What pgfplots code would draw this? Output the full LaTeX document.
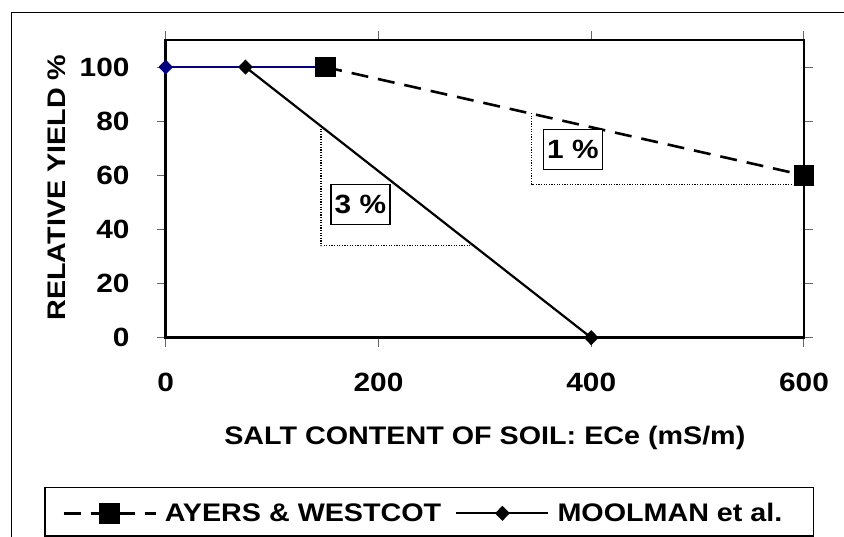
\documentclass[border=0pt]{standalone}
\usepackage{pgfplots}
\pgfplotsset{compat=1.18}
\usepackage{fontspec}
\setmainfont{Liberation Sans}[FakeStretch=1.13]
\definecolor{navyline}{RGB}{0,0,128}
\newcommand\chartfont{\bfseries\fontsize{25.5}{30}\selectfont}
\newcommand\tickfont{\bfseries\fontsize{26.5}{30}\selectfont}

\begin{document}
\begin{tikzpicture}
\useasboundingbox (-165.7bp,-199.3bp) rectangle (678.3bp,337.7bp);
\clip (-165.7bp,-199.3bp) rectangle (678.3bp,337.7bp);
% outer chart frame
\draw[line width=1.3bp] (-154.2bp,-230bp) rectangle (720bp,325.2bp);
\begin{axis}[
  scale only axis, width=638.3bp, height=297.7bp,
  xmin=0, xmax=600, ymin=0, ymax=110,
  xtick={0,200,400,600}, ytick={0,20,40,60,80,100},
  clip=false,
  axis line style={line width=2.5bp},
  tick align=outside, major tick length=9bp,
  tick style={line width=1bp, color=black!60},
  /pgf/number format/assume math mode=true,
  ticklabel style={font=\tickfont},
  xticklabel style={inner sep=0pt, anchor=north, yshift=-26bp},
  yticklabel style={inner sep=0pt, anchor=east, xshift=-27bp},
  xlabel={SALT CONTENT OF SOIL: ECe (mS/m)},
  ylabel={RELATIVE YIELD \%},
  label style={font=\chartfont},
  xlabel style={at={(axis description cs:0.5,-0.337)}, anchor=center},
  ylabel style={at={(axis description cs:-0.1708,0.5045)}, anchor=center},
  legend columns=2,
  legend style={draw=none, fill=none, inner sep=0pt,
    at={(axis description cs:-0.1624,-0.5899)}, anchor=west,
    font=\chartfont, nodes={inner sep=0pt},
    /tikz/every odd column/.append style={column sep=8bp},
    /tikz/every even column/.append style={column sep=14bp}},
  legend image code/.code={\draw[mark repeat=2,mark phase=2,#1]
    plot coordinates {(0bp,0bp) (46bp,0bp) (92bp,0bp)};},
]
% flat stretch up to the threshold
\addplot[color=navyline, line width=2bp, mark=diamond*, mark size=6bp,
  mark indices={1}, mark options={solid, fill=navyline, xscale=1.3}, forget plot]
  coordinates {(0,100) (150,100)};
\addplot[black, line width=2.6bp, dash pattern=on 17bp off 10bp,
  mark=square*, mark size=9bp, mark options={solid}]
  coordinates {(150,100) (600,60)};
\addlegendentry{AYERS \& WESTCOT}
\addplot[black, line width=2.2bp, mark=diamond*, mark size=6bp,
  mark options={solid, xscale=1.3}]
  coordinates {(75,100) (400,0)};
\addlegendentry{MOOLMAN et al.}
% slope triangles
\addplot[black, line width=1.2bp, dash pattern=on 1.2bp off 1.4bp, forget plot]
  coordinates {(146,78.2) (146,34) (289.5,34)};
\addplot[black, line width=1.2bp, dash pattern=on 1.2bp off 1.4bp, forget plot]
  coordinates {(344,83) (344,56.7) (589,56.7)};
\node[draw, fill=white, line width=1.4bp, minimum width=59bp, minimum height=40bp,
  inner sep=0pt, font=\tickfont] at (axis cs:183,49.3) {3 \%};
\node[draw, fill=white, line width=1.4bp, minimum width=59bp, minimum height=40bp,
  inner sep=0pt, font=\tickfont] at (axis cs:382.8,69.6) {1 \%};
\end{axis}
% legend frame
\draw[line width=1.3bp] (-120.7bp,-198.3bp) rectangle (647.6bp,-149.6bp);
\end{tikzpicture}
\end{document}
